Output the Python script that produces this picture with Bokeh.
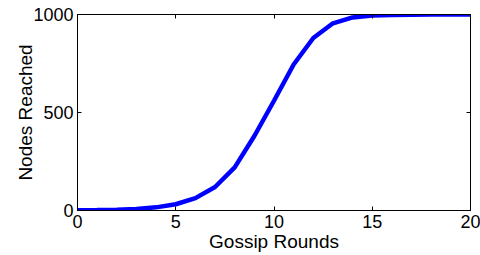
from bokeh.plotting import figure
from bokeh.models import LinearAxis, FixedTicker, Range1d, CustomJSTickFormatter
from bokeh.embed import file_html
from bokeh.resources import INLINE

rounds = list(range(0, 21))
nodes = [1, 2, 4, 8, 16, 32, 63, 120, 220, 380, 560, 745, 880, 955, 985, 995, 998, 999, 1000, 1000, 1000]
x_ticks = [0, 5, 10, 15, 20]
y_ticks = [0, 500, 1000]

FONT = "Liberation Sans"

p = figure(width=480, height=255, output_backend="svg", toolbar_location=None,
           x_range=Range1d(0, 20), y_range=Range1d(0, 1000),
           min_border_left=77, min_border_right=10, min_border_top=14, min_border_bottom=45)
p.background_fill_color = "white"
p.border_fill_color = "white"
p.outline_line_color = "black"
p.outline_line_width = 1
p.xgrid.visible = False
p.ygrid.visible = False

p.line(rounds, nodes, line_width=4.5, line_color="#0000ff")

for ax, ticks in ((p.xaxis[0], x_ticks), (p.yaxis[0], y_ticks)):
    ax.ticker = FixedTicker(ticks=ticks)
    ax.major_tick_in = 4
    ax.major_tick_out = 0
    ax.minor_tick_line_color = None
    ax.axis_line_color = "black"
    ax.major_tick_line_color = "black"
    ax.major_label_text_font = FONT
    ax.major_label_text_font_size = "18px"
    ax.major_label_text_color = "black"
    ax.axis_label_text_font = FONT
    ax.axis_label_text_font_size = "19px"
    ax.axis_label_text_font_style = "normal"
    ax.axis_label_text_color = "black"

p.xaxis.axis_label = "Gossip Rounds"
p.yaxis.axis_label = "Nodes Reached"
p.xaxis.major_label_standoff = 4
p.xaxis.axis_label_standoff = 0
p.yaxis.major_label_standoff = 4
p.yaxis.axis_label_standoff = -6

blank = CustomJSTickFormatter(code="return ''")
top = LinearAxis(ticker=FixedTicker(ticks=x_ticks), formatter=blank,
                 major_tick_in=4, major_tick_out=0, minor_tick_line_color=None,
                 major_label_standoff=0, axis_line_color="black")
right = LinearAxis(ticker=FixedTicker(ticks=y_ticks), formatter=blank,
                   major_tick_in=4, major_tick_out=0, minor_tick_line_color=None,
                   major_label_standoff=0, axis_line_color="black")
p.add_layout(top, "above")
p.add_layout(right, "right")

open("out.html", "w").write(file_html(p, INLINE))
